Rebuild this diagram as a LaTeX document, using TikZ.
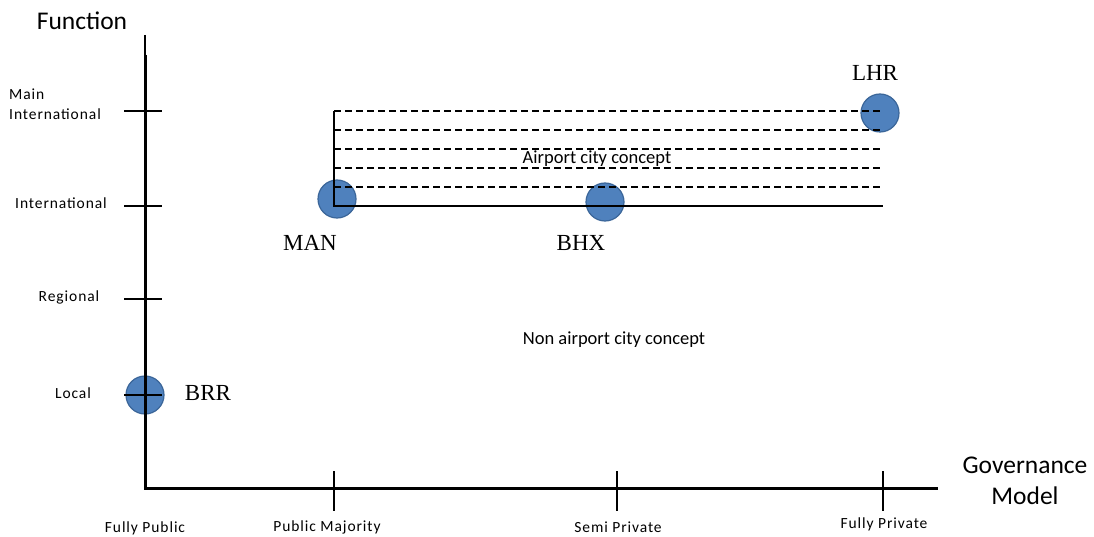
\documentclass[tikz,border=0pt]{standalone}
\usepackage{fontspec}
\setmainfont{Carlito}
\newfontfamily\widefont[LetterSpace=6]{Carlito}
\newfontfamily\codefont{Liberation Serif}
\usetikzlibrary{positioning}
\definecolor{dotblue}{HTML}{4F81BD}
\definecolor{dotedge}{HTML}{3B6699}
\tikzset{
  airport/.style={circle, fill=dotblue, draw=dotedge, line width=1.2pt, minimum size=38pt, inner sep=0pt},
  code/.style={font=\codefont\fontsize{23}{25}\selectfont, inner sep=0pt},
  ticklabel/.style={font=\widefont\fontsize{15.5}{17}\selectfont, inner sep=0pt},
  zonelabel/.style={font=\fontsize{18.5}{20}\selectfont, inner sep=0pt},
  axistitle/.style={font=\fontsize{25.5}{29}\selectfont, align=center, inner sep=0pt},
  region/.style={line width=1.1pt, dash pattern=on 7pt off 4pt}
}
\begin{document}
\begin{tikzpicture}[x=1pt,y=-1pt]
  \useasboundingbox (0,0) rectangle (1094,537);

  % Airports
  \node[airport] (BRR) at (145,395) {};
  \node[airport] (MAN) at (337,199) {};
  \node[airport] (BHX) at (605,202) {};
  \node[airport] (LHR) at (880,113) {};
  \node[code] (brrlabel) at (208,393) {BRR};
  \node[code] (manlabel) at (310,243) {MAN};
  \node[code] (bhxlabel) at (581,243) {BHX};
  \node[code] (lhrlabel) at (875,73) {LHR};

  % Axes
  \draw[line width=1.2pt] (145,35) -- (145,56);
  \draw[line width=3pt] (145,55) -- (145,488) -- (938,488);
  \node[axistitle] (function) at (82,21) {Function};
  \node[axistitle] (governance) at (1025,481) {Governance\\[2pt]Model};

  % Function ticks
  \foreach \y in {111,206,299,395}
    \draw[line width=1.5pt] (124,\y) -- (162,\y);
  \node[ticklabel, align=left, anchor=west] (mainint) at (9,104) {Main\\[3pt]International};
  \node[ticklabel] (intl) at (61,203) {International};
  \node[ticklabel] (regional) at (69,297) {Regional};
  \node[ticklabel] (local) at (73,393) {Local};

  % Governance ticks
  \foreach \x in {334,617,883}
    \draw[line width=1.5pt] (\x,471) -- (\x,511);
  \node[ticklabel] (fullpub) at (145,528) {Fully Public};
  \node[ticklabel] (pubmaj) at (327,527) {Public Majority};
  \node[ticklabel] (semipriv) at (618,527) {Semi Private};
  \node[ticklabel] (fullpriv) at (884,524) {Fully Private};

  % Airport city zone
  \foreach \y in {111,130,149,168,187}
    \draw[region] (334,\y) -- (883,\y);
  \draw[line width=1.5pt] (334,111) -- (334,206) -- (883,206);
  \node[zonelabel] (acity) at (597,159) {Airport city concept};
  \node[zonelabel] (nonacity) at (614,340) {Non airport city concept};
\end{tikzpicture}
\end{document}
